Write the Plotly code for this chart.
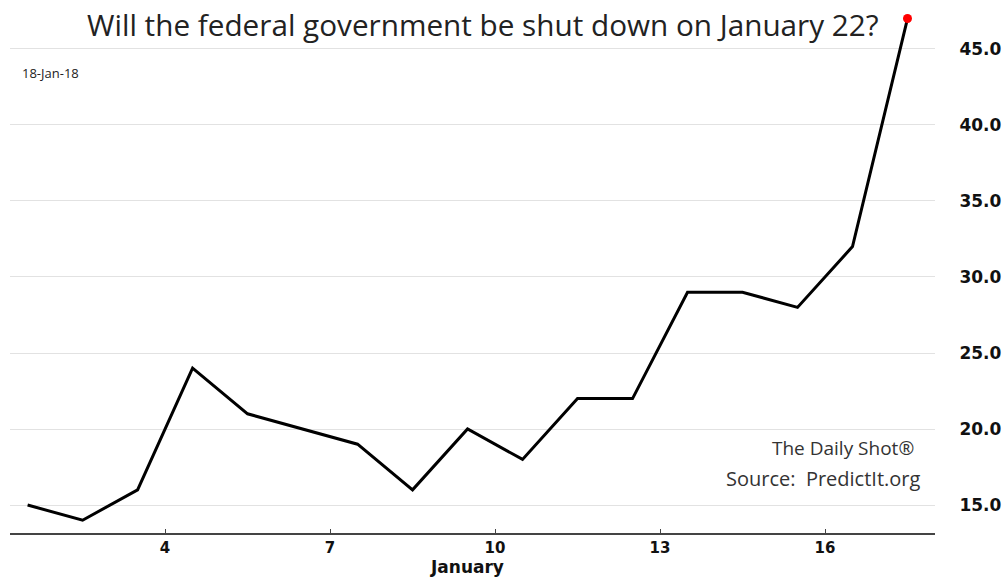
import plotly.graph_objects as go

# Data (January days, PredictIt probability %)
days = [1.5, 2.5, 3.5, 4.5, 5.5, 6.5, 7.5, 8.5, 9.5, 10.5, 11.5, 12.5, 13.5, 14.5, 15.5, 16.5, 17.5]
values = [15, 14, 16, 24, 21, 20, 19, 16, 20, 18, 22, 22, 29, 29, 28, 32, 47]
x_ticks = [4, 7, 10, 13, 16]
y_ticks = [15, 20, 25, 30, 35, 40, 45]

W, H = 1002, 578
ML, MR, MT, MB = 10, 67, 0, 45
PH = H - MT - MB
PW = W - ML - MR

def px_x(x):
    return (x - ML) / PW

def px_y(y):
    return (H - MB - y) / PH

fig = go.Figure()
fig.add_trace(go.Scatter(x=days, y=values, mode="lines",
                         line=dict(color="black", width=3), hoverinfo="skip",
                         showlegend=False))
fig.add_trace(go.Scatter(x=[days[-1]], y=[values[-1]], mode="markers",
                         marker=dict(color="#ff0000", size=9), showlegend=False,
                         cliponaxis=False))

fig.update_layout(
    width=W, height=H,
    margin=dict(l=ML, r=MR, t=MT, b=MB),
    plot_bgcolor="white", paper_bgcolor="white",
    font=dict(family="DejaVu Sans", color="#111"),
    xaxis=dict(range=[1.18, 18.0], tickvals=x_ticks, ticktext=[str(t) for t in x_ticks],
               showgrid=False, zeroline=False, showline=True, linecolor="#444", linewidth=1.5,
               ticks="inside", ticklen=4, tickcolor="#444",
               tickfont=dict(family="DejaVu Sans", size=15, color="#111", weight="bold")),
    yaxis=dict(range=[13.16, 48.22], side="right", tickvals=y_ticks,
               ticktext=[f"{v:.1f}" for v in y_ticks],
               showgrid=True, gridcolor="#e2e2e2", gridwidth=1, zeroline=False,
               showline=False, ticks="outside", ticklen=20, tickcolor="rgba(0,0,0,0)",
               tickfont=dict(family="DejaVu Sans", size=17, color="#111", weight="bold")),
)

fig.add_annotation(text="Will the federal government be shut down on January 22?",
                   xref="paper", yref="paper", x=px_x(483), y=px_y(25),
                   xanchor="center", yanchor="middle", showarrow=False,
                   font=dict(family="Open Sans", size=29.7, color="#222"))
fig.add_annotation(text="18-Jan-18", xref="paper", yref="paper",
                   x=px_x(20), y=px_y(73), xanchor="left", yanchor="middle",
                   showarrow=False, font=dict(family="Open Sans", size=13, color="#222"))
fig.add_annotation(text="The Daily Shot®", xref="paper", yref="paper",
                   x=px_x(916), y=px_y(448), xanchor="right", yanchor="middle",
                   showarrow=False, font=dict(family="Open Sans", size=19, color="#333"))
fig.add_annotation(text="Source:  PredictIt.org", xref="paper", yref="paper",
                   x=px_x(922), y=px_y(478), xanchor="right", yanchor="middle",
                   showarrow=False, font=dict(family="Open Sans", size=20, color="#333"))
fig.add_annotation(text="<b>January</b>", xref="paper", yref="paper",
                   x=px_x(467), y=px_y(567), xanchor="center", yanchor="middle",
                   showarrow=False, font=dict(family="DejaVu Sans", size=17, color="#111"))

fig.write_html("out.html")
